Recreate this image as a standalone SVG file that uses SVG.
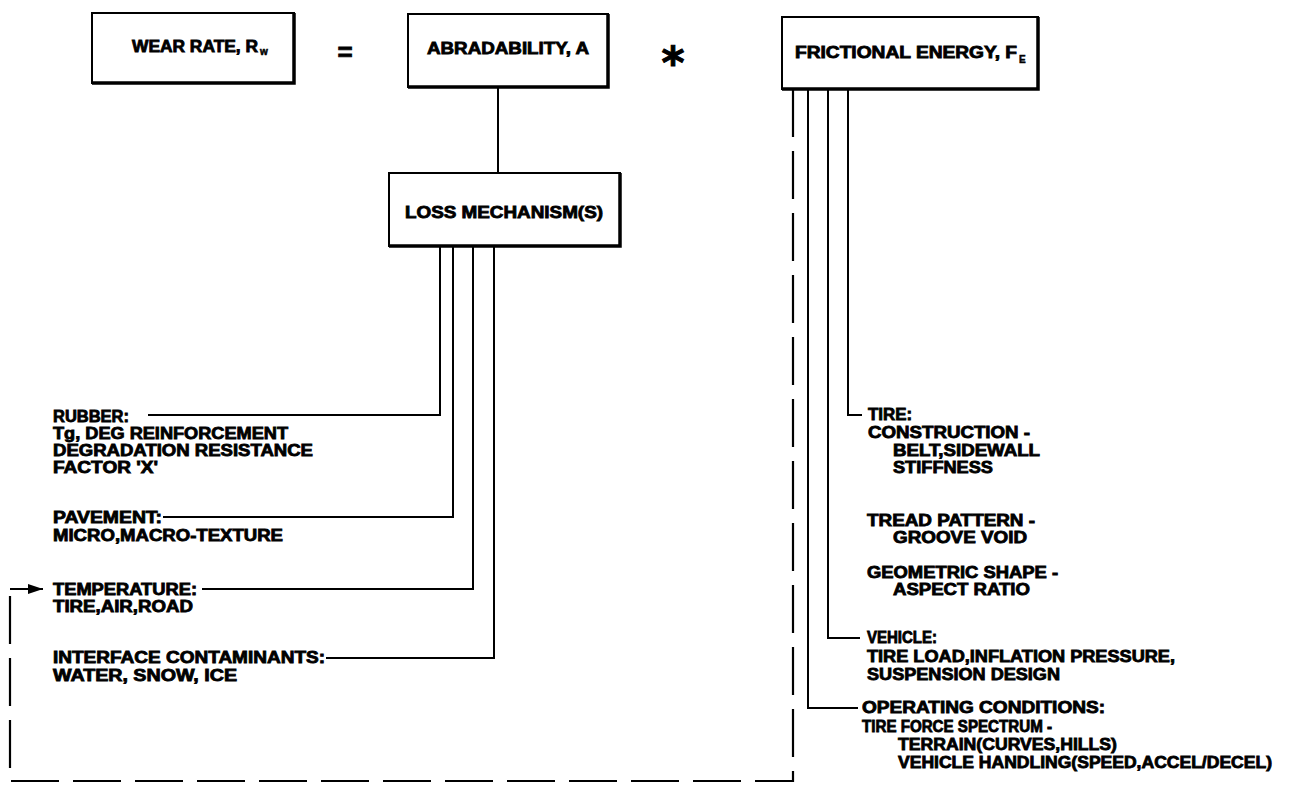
<svg xmlns="http://www.w3.org/2000/svg" width="1292" height="787" viewBox="0 0 1292 787">
<defs>
<style>
text{font-family:"Liberation Sans",Arial,sans-serif;font-weight:bold;font-size:16px;fill:#000;stroke:#000;stroke-width:0.8}
.box{fill:#fff;stroke:#000;stroke-width:2}
.shadow{fill:none;stroke:#000;stroke-width:3.5}
.ln{fill:none;stroke:#000;stroke-width:2}
.dash{fill:none;stroke:#000;stroke-width:2.2;stroke-dasharray:48 14}
.sub{font-size:10px;stroke-width:0.5}
</style>
<marker id="arr" viewBox="0 0 15 10" refX="15" refY="5" markerWidth="15" markerHeight="10" markerUnits="userSpaceOnUse" orient="auto">
<path d="M0,0 L15,5 L0,10 Z" fill="#000"/>
</marker>
</defs>
<rect width="1292" height="787" fill="#fff"/>

<g id="connectors">
<path class="ln" d="M498,87 V173"/>
<path class="ln" d="M440,246 V415 H148"/>
<path class="ln" d="M453,246 V517 H163"/>
<path class="ln" d="M473,246 V589 H202"/>
<path class="ln" d="M494,246 V658 H326"/>
<path class="ln" d="M848,89 V415 H862"/>
<path class="ln" d="M828,89 V638 H860"/>
<path class="ln" d="M808,89 V708 H858"/>
<path class="dash" d="M793,89 V781 H10 V589"/>
<path class="ln" d="M10,589 H43" marker-end="url(#arr)"/>
</g>

<g id="wear-rate">
<rect class="box" x="92" y="13" width="202" height="70"/>
<path class="shadow" d="M92,83 H294 V13"/>
<text x="132" y="52" textLength="126" lengthAdjust="spacingAndGlyphs">WEAR RATE, R</text>
<text class="sub" x="260" y="55">w</text>
</g>

<g id="equals">
<text x="345" y="61" text-anchor="middle" style="font-size:26px">=</text>
</g>

<g id="abradability">
<rect class="box" x="408" y="14" width="200" height="73"/>
<path class="shadow" d="M408,87 H608 V14"/>
<text x="427" y="54" textLength="162" lengthAdjust="spacingAndGlyphs">ABRADABILITY, A</text>
</g>

<g id="times">
<text x="673" y="78" text-anchor="middle" style="font-family:'DejaVu Sans',sans-serif;font-size:44px;stroke-width:1">*</text>
</g>

<g id="frictional-energy">
<rect class="box" x="782" y="17" width="256" height="72"/>
<path class="shadow" d="M782,89 H1038 V17"/>
<text x="795" y="58" textLength="222" lengthAdjust="spacingAndGlyphs">FRICTIONAL ENERGY, F</text>
<text class="sub" x="1019" y="63">E</text>
</g>

<g id="loss-mechanism">
<rect class="box" x="389" y="173" width="231" height="73"/>
<path class="shadow" d="M389,246 H620 V173"/>
<text x="405" y="218" textLength="198" lengthAdjust="spacingAndGlyphs">LOSS MECHANISM(S)</text>
</g>

<g id="rubber">
<text x="53" y="422" textLength="76" lengthAdjust="spacingAndGlyphs">RUBBER:</text>
<text x="53" y="439" textLength="235" lengthAdjust="spacingAndGlyphs">Tg, DEG REINFORCEMENT</text>
<text x="53" y="456" textLength="260" lengthAdjust="spacingAndGlyphs">DEGRADATION RESISTANCE</text>
<text x="53" y="473" textLength="105" lengthAdjust="spacingAndGlyphs">FACTOR 'X'</text>
</g>

<g id="pavement">
<text x="53" y="523" textLength="109" lengthAdjust="spacingAndGlyphs">PAVEMENT:</text>
<text x="53" y="541" textLength="230" lengthAdjust="spacingAndGlyphs">MICRO,MACRO-TEXTURE</text>
</g>

<g id="temperature">
<text x="53" y="595" textLength="144" lengthAdjust="spacingAndGlyphs">TEMPERATURE:</text>
<text x="53" y="612" textLength="140" lengthAdjust="spacingAndGlyphs">TIRE,AIR,ROAD</text>
</g>

<g id="contaminants">
<text x="53" y="663" textLength="272" lengthAdjust="spacingAndGlyphs">INTERFACE CONTAMINANTS:</text>
<text x="53" y="681" textLength="184" lengthAdjust="spacingAndGlyphs">WATER, SNOW, ICE</text>
</g>

<g id="tire">
<text x="868" y="420" textLength="44" lengthAdjust="spacingAndGlyphs">TIRE:</text>
<text x="868" y="438" textLength="162" lengthAdjust="spacingAndGlyphs">CONSTRUCTION -</text>
<text x="893" y="456" textLength="147" lengthAdjust="spacingAndGlyphs">BELT,SIDEWALL</text>
<text x="893" y="473" textLength="100" lengthAdjust="spacingAndGlyphs">STIFFNESS</text>
<text x="867" y="526" textLength="168" lengthAdjust="spacingAndGlyphs">TREAD PATTERN -</text>
<text x="893" y="543" textLength="134" lengthAdjust="spacingAndGlyphs">GROOVE VOID</text>
<text x="867" y="578" textLength="191" lengthAdjust="spacingAndGlyphs">GEOMETRIC SHAPE -</text>
<text x="893" y="595" textLength="137" lengthAdjust="spacingAndGlyphs">ASPECT RATIO</text>
</g>

<g id="vehicle">
<text x="867" y="643" textLength="70" lengthAdjust="spacingAndGlyphs">VEHICLE:</text>
<text x="867" y="662" textLength="308" lengthAdjust="spacingAndGlyphs">TIRE LOAD,INFLATION PRESSURE,</text>
<text x="867" y="680" textLength="193" lengthAdjust="spacingAndGlyphs">SUSPENSION DESIGN</text>
</g>

<g id="operating-conditions">
<text x="862" y="713" textLength="243" lengthAdjust="spacingAndGlyphs">OPERATING CONDITIONS:</text>
<text x="862" y="732" textLength="190" lengthAdjust="spacingAndGlyphs">TIRE FORCE SPECTRUM -</text>
<text x="898" y="750" textLength="219" lengthAdjust="spacingAndGlyphs">TERRAIN(CURVES,HILLS)</text>
<text x="898" y="768" textLength="374" lengthAdjust="spacingAndGlyphs">VEHICLE HANDLING(SPEED,ACCEL/DECEL)</text>
</g>
</svg>
